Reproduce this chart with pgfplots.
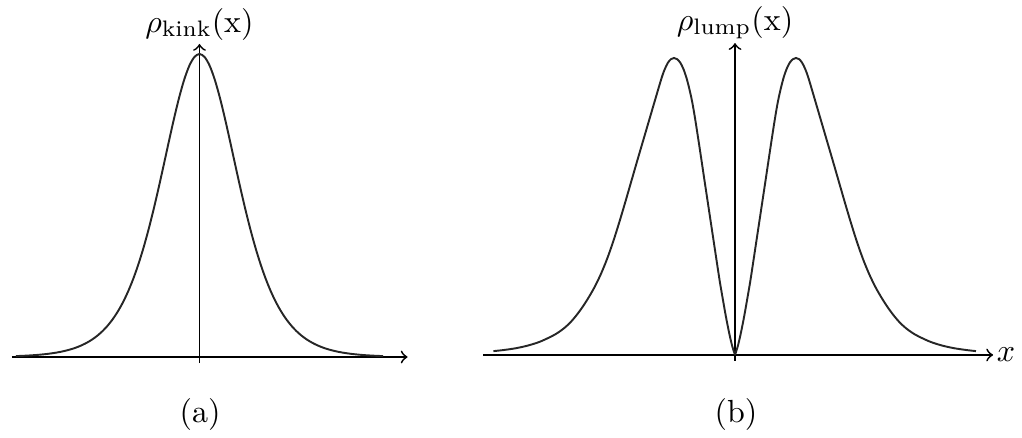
\documentclass[border=0pt]{standalone}
\usepackage{pgfplots}
\pgfplotsset{compat=1.18}
\usepackage{amsmath}
\pgfplotstableread{
x y
0 0
0.05 0.033
0.1 0.078
0.15 0.13
0.2 0.188
0.25 0.248
0.3 0.315
0.35 0.383
0.4 0.451
0.45 0.519
0.5 0.587
0.55 0.656
0.6 0.724
0.65 0.79
0.7 0.85
0.75 0.897
0.8 0.936
0.85 0.965
0.9 0.985
0.95 0.996
1.0 1.0
1.05 0.996
1.1 0.984
1.15 0.963
1.2 0.935
1.3 0.866
1.4 0.796
1.5 0.726
1.6 0.656
1.7 0.585
1.8 0.514
1.9 0.445
2.0 0.380
2.1 0.322
2.2 0.272
2.3 0.2295
2.4 0.1935
2.5 0.1615
2.6 0.1335
2.7 0.1095
2.8 0.0905
2.9 0.0755
3.0 0.0635
3.2 0.0445
3.4 0.0315
3.6 0.0225
3.8 0.0165
3.95 0.013
}\lumpright
\pgfplotstableread{
x y
0 0
-0.05 0.033
-0.1 0.078
-0.15 0.13
-0.2 0.188
-0.25 0.248
-0.3 0.315
-0.35 0.383
-0.4 0.451
-0.45 0.519
-0.5 0.587
-0.55 0.656
-0.6 0.724
-0.65 0.79
-0.7 0.85
-0.75 0.897
-0.8 0.936
-0.85 0.965
-0.9 0.985
-0.95 0.996
-1.0 1.0
-1.05 0.996
-1.1 0.984
-1.15 0.963
-1.2 0.935
-1.3 0.866
-1.4 0.796
-1.5 0.726
-1.6 0.656
-1.7 0.585
-1.8 0.514
-1.9 0.445
-2.0 0.380
-2.1 0.322
-2.2 0.272
-2.3 0.2295
-2.4 0.1935
-2.5 0.1615
-2.6 0.1335
-2.7 0.1095
-2.8 0.0905
-2.9 0.0755
-3.0 0.0635
-3.2 0.0445
-3.4 0.0315
-3.6 0.0225
-3.8 0.0165
-3.96 0.013
}\lumpleft
\begin{document}
\begin{tikzpicture}
\path[use as bounding box] (0,0) rectangle (319.375pt,136.875pt);
% ---------- panel (a) ----------
\begin{axis}[
  at={(62.34pt,25.31pt)}, anchor=origin,
  x=15.9375pt, y=94.6875pt,
  axis lines=middle, enlargelimits=false,
  xmin=-3.68, xmax=4.08, ymin=-0.02, ymax=1.033,
  xtick=\empty, ytick=\empty,
  axis line style={line width=0.55pt,->},
  ylabel={$\rho_{\text{kink}}(\mathrm{x})$},
  every axis y label/.style={at={(ticklabel* cs:1)}, anchor=south, inner sep=1pt},
  clip=false,
]
\addplot[smooth, line width=0.6pt, black!85] coordinates {
(-3.6,0.002980)(-3.5,0.003641)(-3.4,0.004447)(-3.3,0.005435)(-3.2,0.006624)(-3.1,0.008098)
(-3.0,0.009866)(-2.9,0.012042)(-2.8,0.014683)(-2.7,0.017904)(-2.6,0.021825)(-2.5,0.026592)
(-2.4,0.032384)(-2.3,0.039413)(-2.2,0.047926)(-2.1,0.058223)(-2.0,0.070651)(-1.9,0.085610)
(-1.8,0.103558)(-1.7,0.125010)(-1.6,0.150527)(-1.5,0.180707)(-1.4,0.216152)(-1.3,0.257436)
(-1.2,0.305022)(-1.1,0.359211)(-1.0,0.419974)(-0.9,0.486917)(-0.8,0.559055)(-0.7,0.634740)
(-0.6,0.711596)(-0.5,0.786448)(-0.4,0.855639)(-0.3,0.915137)(-0.2,0.961060)
(-0.1,0.990066)(0,1)
(0.1,0.990066)(0.2,0.961060)(0.3,0.915137)(0.4,0.855639)(0.5,0.786448)
(0.6,0.711596)(0.7,0.634740)(0.8,0.559055)(0.9,0.486917)(1.0,0.419974)
(1.1,0.359211)(1.2,0.305022)(1.3,0.257436)(1.4,0.216152)(1.5,0.180707)
(1.6,0.150527)(1.7,0.125010)(1.8,0.103558)(1.9,0.085610)(2.0,0.070651)(2.1,0.058223)
(2.2,0.047926)(2.3,0.039413)(2.4,0.032384)(2.5,0.026592)(2.6,0.021825)(2.7,0.017904)
(2.8,0.014683)(2.9,0.012042)(3.0,0.009866)(3.1,0.008098)(3.2,0.006624)(3.3,0.005435)
(3.4,0.004447)(3.5,0.003641)(3.6,0.002980)
};
\end{axis}
% ---------- panel (b) ----------
\begin{axis}[
  at={(229.69pt,25.94pt)}, anchor=origin,
  x=19.0625pt, y=92.8125pt,
  axis lines=middle, enlargelimits=false,
  xmin=-4.13, xmax=4.23, ymin=-0.02, ymax=1.05,
  xtick=\empty, ytick=\empty,
  axis line style={line width=0.55pt,->},
  ylabel={$\rho_{\text{lump}}(\mathrm{x})$},
  xlabel={$x$},
  every axis y label/.style={at={(ticklabel* cs:1)}, anchor=south, inner sep=1pt},
  every axis x label/.style={at={(ticklabel* cs:1)}, anchor=west, inner sep=1pt},
  clip=false,
]
\addplot[smooth, line width=0.6pt, black!85] table[x=x,y=y] {\lumpright};
\addplot[smooth, line width=0.6pt, black!85] table[x=x,y=y] {\lumpleft};
\end{axis}
\node[anchor=base] at (62.5pt,4.7pt) {(a)};
\node[anchor=base] at (230pt,4.7pt) {(b)};
\end{tikzpicture}
\end{document}
